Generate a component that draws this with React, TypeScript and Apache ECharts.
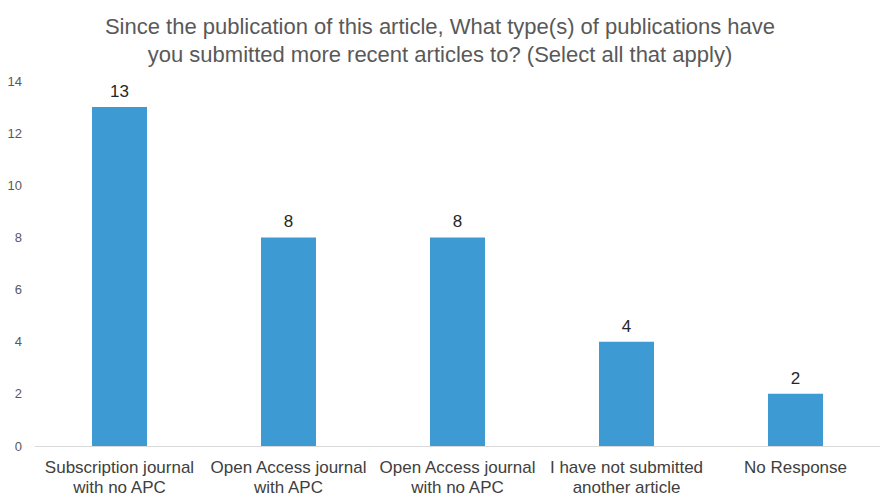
import React, { useEffect, useRef } from "react";
import * as echarts from "echarts";

const categories = [
  "Subscription journal\nwith no APC",
  "Open Access journal\nwith APC",
  "Open Access journal\nwith no APC",
  "I have not submitted\nanother article",
  "No Response",
];
const values = [13, 8, 8, 4, 2];
const titleText =
  "Since the publication of this article, What type(s) of publications have\nyou submitted more recent articles to? (Select all that apply)";

export default function App() {
  const ref = useRef<HTMLDivElement>(null);
  useEffect(() => {
    if (!ref.current) return;
    const chart = echarts.init(ref.current, null, { renderer: "svg" });
    chart.setOption({
      animation: false,
      textStyle: { fontFamily: "Liberation Sans, Arial, sans-serif" },
      title: {
        text: titleText,
        left: "center",
        top: 7,
        textStyle: {
          fontSize: 22,
          fontWeight: "normal",
          color: "#595959",
          lineHeight: 28,
          fontFamily: "Liberation Sans, Arial, sans-serif",
        },
      },
      grid: { left: 35, right: 0, top: 81, bottom: 49, containLabel: false },
      xAxis: {
        type: "category",
        data: categories,
        axisLine: { show: true, lineStyle: { color: "#d9d9d9", width: 1 } },
        axisTick: { show: false },
        axisLabel: {
          color: "#404040",
          fontSize: 17,
          lineHeight: 20,
          margin: 11,
          interval: 0,
        },
      },
      yAxis: {
        type: "value",
        min: 0,
        max: 14,
        interval: 2,
        splitLine: { show: false },
        axisLine: { show: false },
        axisTick: { show: false },
        axisLabel: { color: "#595959", fontSize: 13, margin: 13 },
      },
      series: [
        {
          type: "bar",
          data: values,
          barWidth: 55,
          itemStyle: { color: "#3e9ad3" },
          label: {
            show: true,
            position: "top",
            distance: 7,
            color: "#262626",
            fontSize: 17,
          },
        },
      ],
    });
    return () => chart.dispose();
  }, []);
  return <div ref={ref} style={{ width: 880, height: 497, position: "absolute", left: 0, top: 0, background: "#fff" }} />;
}
